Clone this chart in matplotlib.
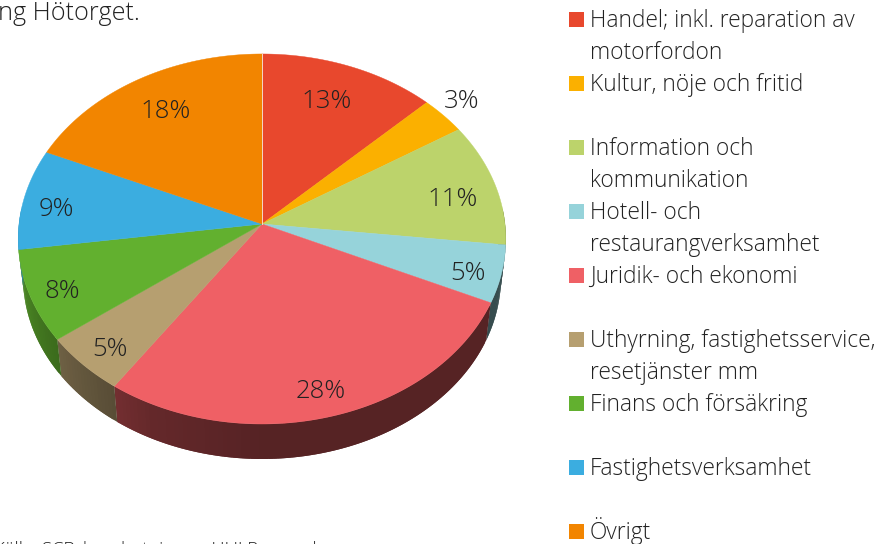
import numpy as np
import matplotlib
matplotlib.use("Agg")
import matplotlib.pyplot as plt
from matplotlib.colors import to_rgb

categories = [
    "Handel; inkl. reparation av\nmotorfordon",
    "Kultur, nöje och fritid",
    "Information och\nkommunikation",
    "Hotell- och\nrestaurangverksamhet",
    "Juridik- och ekonomi",
    "Uthyrning, fastighetsservice,\nresetjänster mm",
    "Finans och försäkring",
    "Fastighetsverksamhet",
    "Övrigt",
]
# the labels show these rounded
shares = [12.7, 3.3, 10.8, 5.0, 27.8, 5.2, 8.0, 8.8, 18.4]
colors = ["#e8482d", "#fbb000", "#bcd36b", "#96d3da", "#ef6065",
          "#b69f70", "#62b02f", "#3bade0", "#f28500"]

# label centres in picture pixels
label_pos = [(327, 101), (462, 101), (453, 199), (468, 274), (321, 392),
             (110, 349), (62, 291), (56, 209), (166, 112)]

# pie geometry, the disc is seen in perspective so apex is off the ellipse centre
CX, CY = 262, 224
A, B, K = 243, 183.8, 0.081
DEPTH = 39
SHRINK = 0.98

FONT = ["Open Sans", "DejaVu Sans"]
TEXT = "#222222"


def rim(theta):
    # theta clockwise from 12 o'clock, returns pixel offsets from the apex
    w = 1 + K * np.cos(theta)
    return A * np.sin(theta) / w, -B * np.cos(theta) / w


def wall_shade(theta):
    # lighter towards the left side, dark from the middle to the right
    deg = np.degrees(theta)
    return np.interp(deg, [90, 180, 205, 225, 250, 270], [0.36, 0.36, 0.42, 0.55, 0.72, 0.8])


fig = plt.figure(figsize=(8.87, 5.44), dpi=100)
ax = fig.add_axes([0, 0, 1, 1])
ax.set_xlim(0, 887)
ax.set_ylim(544, 0)
ax.axis("off")

edges = np.cumsum([0] + shares) / sum(shares) * 2 * np.pi

# side wall, strips overlap the next one so no seams show
for start, stop, color in zip(edges[:-1], edges[1:], colors):
    lo, hi = max(start, np.radians(85)), min(stop, np.radians(275))
    if hi <= lo:
        continue
    steps = np.linspace(lo, hi, max(2, int(np.degrees(hi - lo)) + 1))
    rgb = np.array(to_rgb(color))
    for t0, t1 in zip(steps[:-1], steps[1:]):
        x, y = rim(np.array([t0, min(t1 + np.radians(1), hi)]))
        xs = np.r_[CX + x, CX + x[::-1] * SHRINK]
        ys = np.r_[CY + y, CY + y[::-1] * SHRINK + DEPTH]
        c = rgb * wall_shade((t0 + t1) / 2)
        ax.fill(xs, ys, color=c, lw=0, zorder=1)

# top face
for start, stop, color in zip(edges[:-1], edges[1:], colors):
    t = np.linspace(start, stop, 120)
    x, y = rim(t)
    ax.fill(np.r_[CX, CX + x], np.r_[CY, CY + y], color=color, lw=0.3, zorder=2)
ax.plot([CX, CX], [CY, CY + rim(0.0)[1]], color="#f6d9c8", lw=0.7, zorder=3)

for share, (lx, ly) in zip(shares, label_pos):
    ax.text(lx, ly, f"{round(share)}%", ha="center", va="center", fontsize=18.5,
            family=FONT, weight="light", color=TEXT, zorder=4)

# legend, every entry takes two line slots
for i, (name, color) in enumerate(zip(categories, colors)):
    y = 19 + 64 * i
    ax.fill([569, 584, 584, 569], [y - 7.5, y - 7.5, y + 7.5, y + 7.5], color=color, lw=0)
    for j, line in enumerate(name.split("\n")):
        ax.text(590, y + 8 + 32 * j, line, ha="left", va="baseline", fontsize=16.4,
                family=FONT, weight="light", color=TEXT)

ax.text(-2, 14, "ng Hötorget.", ha="left", va="center", fontsize=18.2, family=FONT,
        weight="light", color=TEXT)
ax.text(-6, 550, "Källa: SCB, bearbetning av HUI Research", ha="left", va="center",
        fontsize=13.2, family=FONT, weight="light", color=TEXT)

fig.savefig("out.png", dpi=100)
